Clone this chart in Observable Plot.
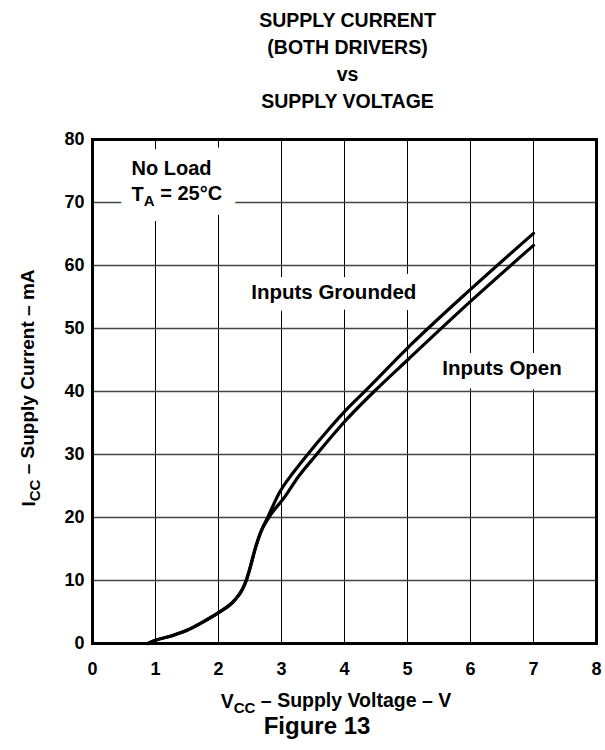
<!DOCTYPE html>
<html>
<head>
<meta charset="utf-8">
<script src="https://cdn.jsdelivr.net/npm/d3@7"></script>
<script src="https://cdn.jsdelivr.net/npm/@observablehq/plot@0.6"></script>
<style>
  body { margin: 0; background: #fff; font-family: "Liberation Sans", Arial, Helvetica, sans-serif; }
  #title { padding: 7px 0 0 90px; width: 515px; height: 108px; text-align: center; font-weight: bold; font-size: 19.5px; line-height: 27px; color: #000; }
  #chart svg { display: block; }
</style>
</head>
<body>
<div id="title">SUPPLY CURRENT<br>(BOTH DRIVERS)<br>vs<br>SUPPLY VOLTAGE</div>
<div id="chart"></div>
<script>
// Series: Inputs Grounded (upper curve)
const vccGrounded = [0.88, 1.0, 1.25, 1.5, 1.75, 2.0, 2.25, 2.38, 2.44, 2.49, 2.59, 2.68, 2.78, 2.97, 3.2, 3.43, 3.75, 4.0, 4.31, 5.0, 6.0, 7.0];
const iccGrounded = [0, 0.5, 1.2, 2.1, 3.4, 4.9, 6.8, 8.6, 10.0, 11.6, 15.3, 17.9, 20.0, 24.0, 27.3, 30.2, 34.0, 36.8, 39.9, 46.9, 56.2, 65.1];
// Series: Inputs Open (lower curve)
const vccOpen = [0.88, 1.0, 1.25, 1.5, 1.75, 2.0, 2.25, 2.38, 2.44, 2.49, 2.59, 2.68, 2.8, 3.06, 3.27, 3.54, 3.86, 4.0, 4.47, 5.0, 6.0, 7.0];
const iccOpen = [0, 0.5, 1.2, 2.1, 3.4, 4.9, 6.8, 8.6, 10.0, 11.6, 15.3, 17.9, 20.0, 23.4, 26.5, 29.8, 33.6, 35.2, 40.0, 45.0, 54.3, 63.2];

const xTicks = [0, 1, 2, 3, 4, 5, 6, 7, 8];
const yTicks = [0, 10, 20, 30, 40, 50, 60, 70, 80];
const xGrid = [1, 2, 3, 4, 5, 6, 7];
const yGrid = [10, 20, 30, 40, 50, 60, 70];

const conditionLabels = ["No Load", "TA = 25°C"];
const conditionX = [0.62, 0.62];
const conditionY = [75.4, 71.2];
const seriesLabels = ["Inputs Grounded", "Inputs Open"];
const seriesLabelX = [3.83, 6.5];
const seriesLabelY = [55.7, 43.6];

const conditions = conditionLabels.map((t, i) => ({x: conditionX[i], y: conditionY[i], text: t}));
const seriesNotes = seriesLabels.map((t, i) => ({x: seriesLabelX[i], y: seriesLabelY[i], text: t}));

const rows = [
  ...vccGrounded.map((v, i) => ({vcc: v, icc: iccGrounded[i], series: "Inputs Grounded"})),
  ...vccOpen.map((v, i) => ({vcc: v, icc: iccOpen[i], series: "Inputs Open"}))
];

const fontFamily = "'Liberation Sans', Arial, Helvetica, sans-serif";

const svg = Plot.plot({
  width: 605,
  height: 635,
  marginLeft: 92,
  marginRight: 9,
  marginTop: 24,
  marginBottom: 107,
  style: {fontFamily, fontSize: "18px", fontWeight: "bold", color: "#000", background: "#fff"},
  x: {domain: [0, 8], ticks: xTicks, tickSize: 0, tickPadding: 19, label: null, tickFormat: d => String(d)},
  y: {domain: [0, 80], ticks: yTicks, tickSize: 0, tickPadding: 8, label: null, tickFormat: d => String(d)},
  marks: [
    Plot.ruleX(xGrid, {stroke: "#000", strokeWidth: 1}),
    Plot.ruleY(yGrid, {stroke: "#444", strokeWidth: 1.3}),
    // white halos behind labels (gaps in the grid)
    Plot.text(conditions, {x: "x", y: "y", text: "text", textAnchor: "start", fill: "#fff", stroke: "#fff", strokeWidth: 30, fontSize: 20, fontWeight: "bold"}),
    Plot.text(seriesNotes, {x: "x", y: "y", text: "text", textAnchor: "middle", fill: "#fff", stroke: "#fff", strokeWidth: 22, fontSize: 20.5, fontWeight: "bold"}),
    // labels
    Plot.text(conditions, {x: "x", y: "y", text: "text", textAnchor: "start", fill: "#000", fontSize: 20, fontWeight: "bold"}),
    Plot.text(seriesNotes, {x: "x", y: "y", text: "text", textAnchor: "middle", fill: "#000", fontSize: 20.5, fontWeight: "bold"}),
    Plot.line(rows, {x: "vcc", y: "icc", z: "series", stroke: "#000", strokeWidth: 3.2, curve: "monotone-x"}),
    Plot.frame({stroke: "#000", strokeWidth: 3})
  ]
});

document.getElementById("chart").appendChild(svg);

const root = d3.select(svg);

// Subscript for T_A annotation
root.selectAll("text").filter(function() { return this.textContent === "TA = 25°C"; }).each(function() {
  const t = d3.select(this);
  t.text(null);
  t.append("tspan").text("T");
  t.append("tspan").attr("dy", "0.3em").attr("font-size", "15px").text("A");
  t.append("tspan").attr("dy", "-0.3em").text(" = 25°C");
});

// X axis label with subscript
const xl = root.append("text")
  .attr("x", 336).attr("y", 593)
  .attr("text-anchor", "middle")
  .attr("font-family", fontFamily)
  .attr("font-size", "19.5px").attr("font-weight", "bold").attr("fill", "#000");
xl.append("tspan").text("V");
xl.append("tspan").attr("dy", "0.3em").attr("font-size", "15px").text("CC");
xl.append("tspan").attr("dy", "-0.3em").text(" – Supply Voltage – V");

// Figure caption
root.append("text")
  .attr("x", 317).attr("y", 619)
  .attr("text-anchor", "middle")
  .attr("font-family", fontFamily)
  .attr("font-size", "24px").attr("font-weight", "bold").attr("fill", "#000")
  .text("Figure 13");

// Y axis label with subscript
const yl = root.append("text")
  .attr("transform", "translate(35, 273) rotate(-90)")
  .attr("text-anchor", "middle")
  .attr("font-family", fontFamily)
  .attr("font-size", "19px").attr("font-weight", "bold").attr("fill", "#000");
yl.append("tspan").text("I");
yl.append("tspan").attr("dy", "0.3em").attr("font-size", "15px").text("CC");
yl.append("tspan").attr("dy", "-0.3em").text(" – Supply Current – mA");
</script>
</body>
</html>
